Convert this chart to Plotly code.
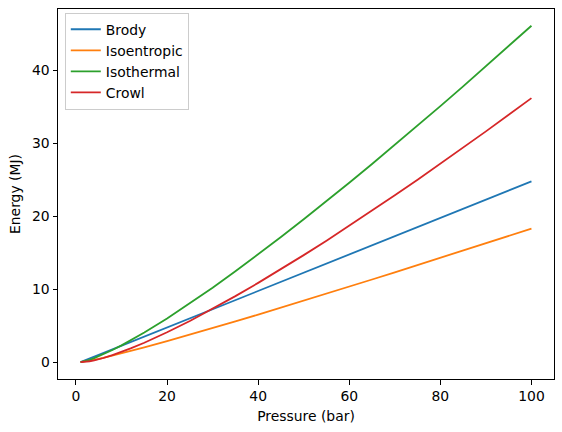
import plotly.graph_objects as go

pressure = [1, 2, 3, 4, 5, 6, 8, 10, 12, 15, 20, 25, 30, 35, 40, 45, 50,
            55, 60, 65, 70, 75, 80, 85, 90, 95, 100]
brody = [0, 0.25, 0.5, 0.75, 1.0, 1.25, 1.75, 2.25, 2.75, 3.5, 4.75, 6.0,
         7.25, 8.5, 9.75, 11.0, 12.25, 13.5, 14.75, 16.0, 17.25, 18.5,
         19.75, 21.0, 22.25, 23.5, 24.75]
isoentropic = [0, 0.0898, 0.2021, 0.3270, 0.4608, 0.6010, 0.8959, 1.2051,
               1.5250, 2.0201, 2.8755, 3.7584, 4.6619, 5.5815, 6.5144,
               7.4584, 8.4121, 9.3741, 10.3436, 11.3196, 12.3016, 13.2891,
               14.2812, 15.2781, 16.2792, 17.2843, 18.2933]
isothermal = [0, 0.1386, 0.3296, 0.5545, 0.8047, 1.0751, 1.6636, 2.3026,
              2.9819, 4.0621, 5.9915, 8.0472, 10.2036, 12.4437, 14.7555,
              17.1300, 19.5601, 22.0403, 24.5661, 27.1335, 29.7395,
              32.3812, 35.0562, 37.7625, 40.4983, 43.2618, 46.0517]
crowl = [0, 0.0386, 0.1296, 0.2545, 0.4047, 0.5751, 0.9636, 1.4026, 1.8819,
         2.6621, 4.0915, 5.6472, 7.3036, 9.0437, 10.8555, 12.7300, 14.6601,
         16.6403, 18.6661, 20.7335, 22.8395, 24.9812, 27.1562, 29.3625,
         31.5983, 33.8618, 36.1517]

series = [("Brody", brody, "#1f77b4"),
          ("Isoentropic", isoentropic, "#ff7f0e"),
          ("Isothermal", isothermal, "#2ca02c"),
          ("Crowl", crowl, "#d62728")]

x_ticks = [0, 20, 40, 60, 80, 100]
y_ticks = [0, 10, 20, 30, 40]

FS = 13.9

fig = go.Figure()
for name, vals, color in series:
    fig.add_trace(go.Scatter(x=pressure, y=vals, mode="lines", name=name,
                             line=dict(color=color, width=1.8)))

axis_common = dict(showgrid=False, zeroline=False, showline=True,
                   linecolor="black", linewidth=1, mirror=True,
                   ticks="outside", ticklen=4.5, tickwidth=1,
                   tickcolor="black", tickfont=dict(size=FS, color="black"))

fig.update_xaxes(range=[-3.95, 104.95], tickvals=x_ticks,
                 title=dict(text="Pressure (bar)", font=dict(size=FS, color="black"),
                            standoff=8),
                 **axis_common)
fig.update_yaxes(range=[-2.3, 48.35], tickvals=y_ticks,
                 title=dict(text="Energy (MJ)", font=dict(size=FS, color="black"),
                            standoff=8),
                 **axis_common)

fig.update_layout(
    width=562, height=432,
    margin=dict(l=58, r=8, t=9, b=53, autoexpand=False),
    paper_bgcolor="white", plot_bgcolor="white",
    font=dict(family="DejaVu Sans", size=FS, color="black"),
    legend=dict(x=0.0137, y=0.99, xanchor="left", yanchor="top",
                bgcolor="rgba(255,255,255,0.8)", bordercolor="#cccccc",
                borderwidth=1, font=dict(size=FS), tracegroupgap=0,
                itemwidth=30),
)

fig.write_html("out.html", config={"displayModeBar": False})

with open("out.html", encoding="utf-8") as f:
    html = f.read()
html = html.replace("<body>", '<body style="margin:0">', 1)
with open("out.html", "w", encoding="utf-8") as f:
    f.write(html)
